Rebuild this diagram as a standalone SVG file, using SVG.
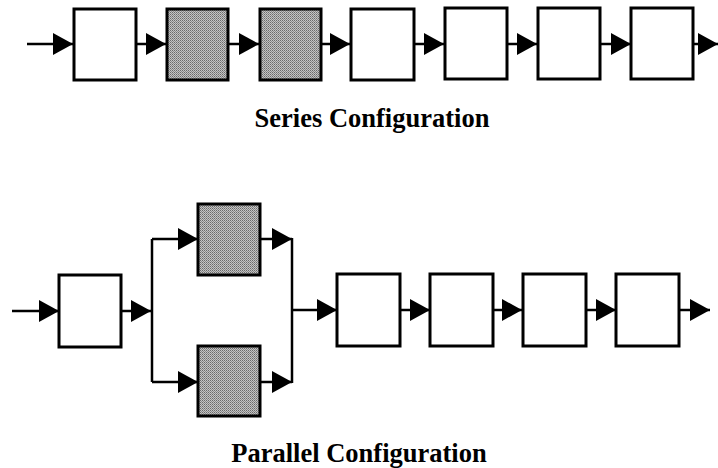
<svg xmlns="http://www.w3.org/2000/svg" width="718" height="468" viewBox="0 0 718 468">
<style>
.box{fill:#fff;stroke:#000;stroke-width:3}
.sh{fill:url(#dots);stroke:#000;stroke-width:3}
.ln{fill:none;stroke:#000;stroke-width:2.5;marker-end:url(#ah)}
.pl{fill:none;stroke:#000;stroke-width:2.5}
.t{font-family:"Liberation Serif","Times New Roman",serif;font-weight:bold;font-size:26.5px;text-anchor:middle;fill:#000}
</style>
<defs>
<pattern id="dots" width="2" height="2" patternUnits="userSpaceOnUse">
<rect width="2" height="2" fill="#c4c4c4"/>
<rect width="1" height="1" fill="#6a6a6a"/>
<rect x="1" y="1" width="1" height="1" fill="#8a8a8a"/>
</pattern>
<marker id="ah" viewBox="0 0 20 22" refX="20" refY="11" markerWidth="20" markerHeight="22" markerUnits="userSpaceOnUse" orient="auto">
<path d="M0,0 L20,11 L0,22 Z" fill="#000"/>
</marker>
</defs>
<g id="connectors">
<path class="ln" d="M27,44 H73"/>
<path class="ln" d="M136,44 H166"/>
<path class="ln" d="M228,44 H259"/>
<path class="ln" d="M321,44 H350"/>
<path class="ln" d="M414,44 H444"/>
<path class="ln" d="M507,44 H537"/>
<path class="ln" d="M600,44 H631"/>
<path class="ln" d="M693,44 H718"/>
<path class="ln" d="M12,311 H59"/>
<path class="ln" d="M121,311 H151"/>
<path class="pl" d="M152,239 V382"/>
<path class="ln" d="M152,239 H198"/>
<path class="ln" d="M152,382 H198"/>
<path class="ln" d="M260,239 H292"/>
<path class="ln" d="M260,382 H292"/>
<path class="pl" d="M292,238 V383"/>
<path class="ln" d="M292,310 H337"/>
<path class="ln" d="M400,310 H430"/>
<path class="ln" d="M493,310 H522"/>
<path class="ln" d="M586,310 H616"/>
<path class="ln" d="M679,310 H710"/>
</g>
<g id="s1"><rect class="box" x="74" y="9" width="62" height="71"/></g>
<g id="s2"><rect class="sh" x="167" y="9" width="61" height="71"/></g>
<g id="s3"><rect class="sh" x="260" y="9" width="61" height="71"/></g>
<g id="s4"><rect class="box" x="351" y="9" width="63" height="71"/></g>
<g id="s5"><rect class="box" x="445" y="8" width="62" height="71"/></g>
<g id="s6"><rect class="box" x="538" y="8" width="62" height="71"/></g>
<g id="s7"><rect class="box" x="631" y="8" width="62" height="71"/></g>
<g id="series-label"><text class="t" x="372" y="127">Series Configuration</text></g>
<g id="p1"><rect class="box" x="59" y="275" width="62" height="72"/></g>
<g id="p2"><rect class="sh" x="198" y="204" width="62" height="71"/></g>
<g id="p3"><rect class="sh" x="198" y="346" width="62" height="70"/></g>
<g id="p4"><rect class="box" x="337" y="274" width="63" height="72"/></g>
<g id="p5"><rect class="box" x="430" y="274" width="63" height="72"/></g>
<g id="p6"><rect class="box" x="523" y="274" width="63" height="72"/></g>
<g id="p7"><rect class="box" x="616" y="274" width="63" height="72"/></g>
<g id="parallel-label"><text class="t" x="359" y="462">Parallel Configuration</text></g>
</svg>
